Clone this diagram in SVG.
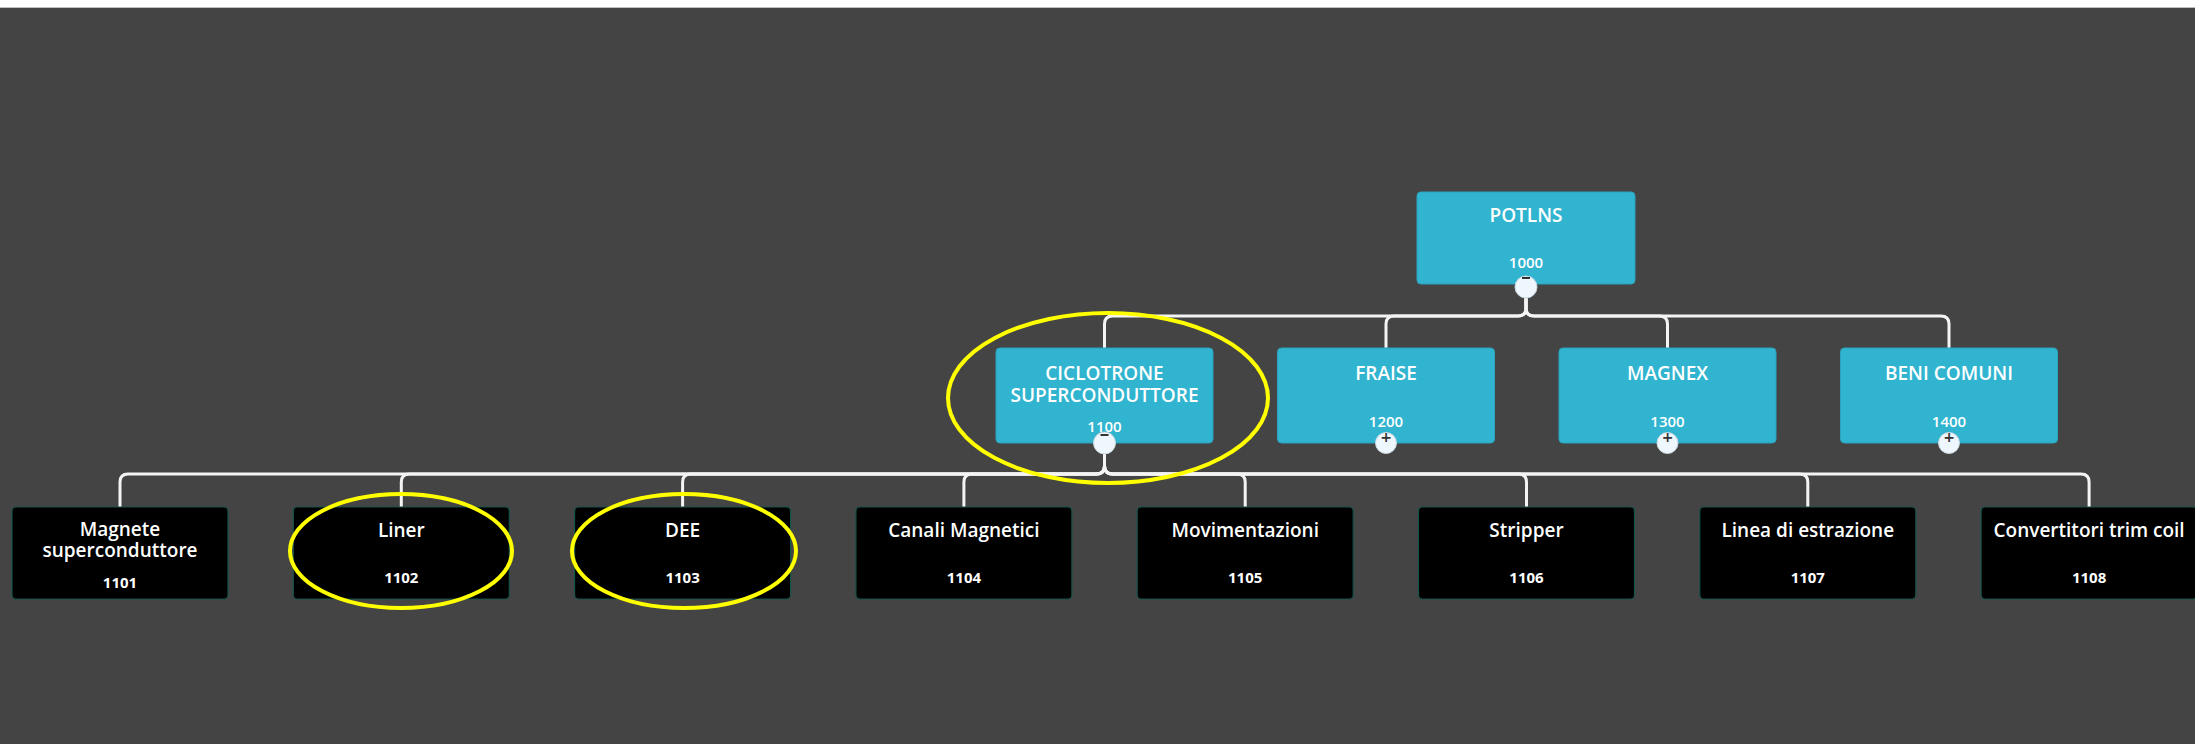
<svg xmlns="http://www.w3.org/2000/svg" width="2195" height="744" viewBox="0 0 2195 744">
<style>
.bg{fill:#444444}
.top{fill:#31b4cf;stroke:#2aa3bd;stroke-width:1}
.bot{fill:#000000;stroke:#14534a;stroke-width:1.2}
.t{font-family:"Open Sans","Liberation Sans",sans-serif;fill:#ffffff;text-anchor:middle}
.tt{font-size:19px;font-weight:600}
.bt{font-size:19px;font-weight:600}
.tn{font-size:15px;font-weight:600}
.bn{font-size:15px;font-weight:700}
.conn path{fill:none;stroke:#f4f4f4;stroke-width:3}
.tog{fill:#eef7fd;stroke:#c9d6de;stroke-width:1}
.sym{font-family:"DejaVu Sans","Liberation Sans",sans-serif;font-size:14px;font-weight:700;fill:#333;text-anchor:middle}
.hl{fill:none;stroke:#ffff00;stroke-width:4}
</style>
<rect class="bg" x="0" y="0" width="2195" height="744"/>
<rect x="0" y="0" width="2195" height="7" fill="#ffffff"/>
<rect x="0" y="7" width="2195" height="1" fill="#bdbdbd"/>

<g id="connectors" class="conn">
<path d="M1526 298 V308 Q1526 316 1518 316 H1112.5 Q1104.5 316 1104.5 324 V348"/>
<path d="M1526 298 V308 Q1526 316 1518 316 H1394 Q1386 316 1386 324 V348"/>
<path d="M1526 298 V308 Q1526 316 1534 316 H1659.5 Q1667.5 316 1667.5 324 V348"/>
<path d="M1526 298 V308 Q1526 316 1534 316 H1941 Q1949 316 1949 324 V348"/>
<path d="M1104.5 454 V466 Q1104.5 474 1096.5 474 H128 Q120 474 120 482 V507"/>
<path d="M1104.5 454 V466 Q1104.5 474 1096.5 474 H409.3 Q401.3 474 401.3 482 V507"/>
<path d="M1104.5 454 V466 Q1104.5 474 1096.5 474 H690.6 Q682.6 474 682.6 482 V507"/>
<path d="M1104.5 454 V466 Q1104.5 474 1096.5 474 H971.9 Q963.9 474 963.9 482 V507"/>
<path d="M1104.5 454 V466 Q1104.5 474 1112.5 474 H1237.2 Q1245.2 474 1245.2 482 V507"/>
<path d="M1104.5 454 V466 Q1104.5 474 1112.5 474 H1518.5 Q1526.5 474 1526.5 482 V507"/>
<path d="M1104.5 454 V466 Q1104.5 474 1112.5 474 H1799.8 Q1807.8 474 1807.8 482 V507"/>
<path d="M1104.5 454 V466 Q1104.5 474 1112.5 474 H2081.1 Q2089.1 474 2089.1 482 V507"/>
</g>

<g id="n1000">
<rect class="top" x="1417" y="192" width="218" height="92" rx="4"/>
<text class="t tt" x="1526" y="222">POTLNS</text>
<text class="t tn" x="1526" y="268">1000</text>
<circle class="tog" cx="1526" cy="287" r="11"/>
<rect x="1522" y="277" width="8" height="2" fill="#333"/>
</g>

<g id="n1100">
<rect class="top" x="996" y="348" width="217" height="95" rx="4"/>
<text class="t tt" x="1104.5" y="380">CICLOTRONE</text>
<text class="t tt" x="1104.5" y="402">SUPERCONDUTTORE</text>
<text class="t tn" x="1104.5" y="432">1100</text>
<circle class="tog" cx="1104.5" cy="443" r="11"/>
<rect x="1100.5" y="434" width="8" height="2" fill="#333"/>
</g>

<g id="n1200">
<rect class="top" x="1277.5" y="348" width="217" height="95" rx="4"/>
<text class="t tt" x="1386" y="380">FRAISE</text>
<text class="t tn" x="1386" y="427">1200</text>
<circle class="tog" cx="1386" cy="443" r="10.5"/>
<text class="sym" x="1386" y="442">+</text>
</g>

<g id="n1300">
<rect class="top" x="1559" y="348" width="217" height="95" rx="4"/>
<text class="t tt" x="1667.5" y="380">MAGNEX</text>
<text class="t tn" x="1667.5" y="427">1300</text>
<circle class="tog" cx="1667.5" cy="443" r="10.5"/>
<text class="sym" x="1667.5" y="442">+</text>
</g>

<g id="n1400">
<rect class="top" x="1840.5" y="348" width="217" height="95" rx="4"/>
<text class="t tt" x="1949" y="380">BENI COMUNI</text>
<text class="t tn" x="1949" y="427">1400</text>
<circle class="tog" cx="1949" cy="443" r="10.5"/>
<text class="sym" x="1949" y="442">+</text>
</g>

<g id="n1101">
<rect class="bot" x="12" y="507" width="216" height="92" rx="4"/>
<text class="t bt" x="120" y="536">Magnete</text>
<text class="t bt" x="120" y="557">superconduttore</text>
<text class="t bn" x="120" y="588">1101</text>
</g>
<g id="n1102">
<rect class="bot" x="293.3" y="507" width="216" height="92" rx="4"/>
<text class="t bt" x="401.3" y="537">Liner</text>
<text class="t bn" x="401.3" y="583">1102</text>
</g>
<g id="n1103">
<rect class="bot" x="574.6" y="507" width="216" height="92" rx="4"/>
<text class="t bt" x="682.6" y="537">DEE</text>
<text class="t bn" x="682.6" y="583">1103</text>
</g>
<g id="n1104">
<rect class="bot" x="855.9" y="507" width="216" height="92" rx="4"/>
<text class="t bt" x="963.9" y="537">Canali Magnetici</text>
<text class="t bn" x="963.9" y="583">1104</text>
</g>
<g id="n1105">
<rect class="bot" x="1137.2" y="507" width="216" height="92" rx="4"/>
<text class="t bt" x="1245.2" y="537">Movimentazioni</text>
<text class="t bn" x="1245.2" y="583">1105</text>
</g>
<g id="n1106">
<rect class="bot" x="1418.5" y="507" width="216" height="92" rx="4"/>
<text class="t bt" x="1526.5" y="537">Stripper</text>
<text class="t bn" x="1526.5" y="583">1106</text>
</g>
<g id="n1107">
<rect class="bot" x="1699.8" y="507" width="216" height="92" rx="4"/>
<text class="t bt" x="1807.8" y="537">Linea di estrazione</text>
<text class="t bn" x="1807.8" y="583">1107</text>
</g>
<g id="n1108">
<rect class="bot" x="1981.1" y="507" width="216" height="92" rx="4"/>
<text class="t bt" x="2089.1" y="537">Convertitori trim coil</text>
<text class="t bn" x="2089.1" y="583">1108</text>
</g>

<g id="highlights">
<ellipse class="hl" cx="1108" cy="398" rx="160" ry="85"/>
<ellipse class="hl" cx="401" cy="551" rx="111" ry="57"/>
<ellipse class="hl" cx="684" cy="551" rx="112" ry="57"/>
</g>
</svg>
